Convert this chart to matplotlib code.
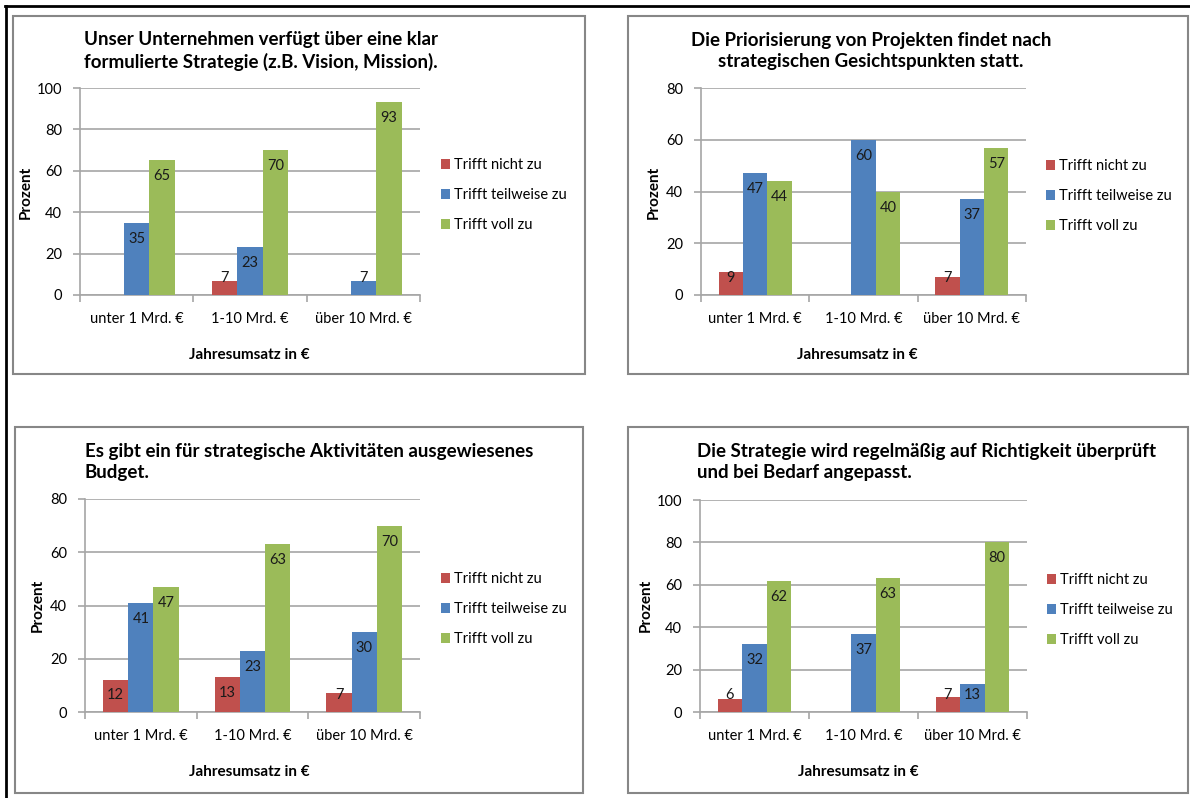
import matplotlib.pyplot as plt
from matplotlib.patches import Rectangle
from matplotlib.lines import Line2D

plt.rcParams['font.family'] = ['Lato', 'DejaVu Sans']

categories = ['unter 1 Mrd. €', '1-10 Mrd. €', 'über 10 Mrd. €']
series_names = ['Trifft nicht zu', 'Trifft teilweise zu', 'Trifft voll zu']
colors = ['#C0504D', '#4F81BD', '#9BBB59']

# None = no answers in that group, nothing drawn
strategie_nicht = [None, 7, None]
strategie_teil = [35, 23, 7]
strategie_voll = [65, 70, 93]

prio_nicht = [9, None, 7]
prio_teil = [47, 60, 37]
prio_voll = [44, 40, 57]

budget_nicht = [12, 13, 7]
budget_teil = [41, 23, 30]
budget_voll = [47, 63, 70]

pruefung_nicht = [6, None, 7]
pruefung_teil = [32, 37, 13]
pruefung_voll = [62, 63, 80]

W, H = 1190, 798
fig = plt.figure(figsize=(W / 100, H / 100), dpi=100)


def fx(px):
    return px / W


def fy(py):
    return 1 - py / H


panels = [
    dict(title='Unser Unternehmen verfügt über eine klar\nformulierte Strategie (z.B. Vision, Mission).',
         data=[strategie_nicht, strategie_teil, strategie_voll], ymax=100,
         ax=(80, 88, 420, 295), frame=(13, 16, 585, 374),
         tpos=(261, 51), tha='center', ylab=(26, 192), xlab=(249, 355), leg=(441, 195)),
    dict(title='Die Priorisierung von Projekten findet nach\nstrategischen Gesichtspunkten statt.',
         data=[prio_nicht, prio_teil, prio_voll], ymax=80,
         ax=(701, 88, 1026, 295), frame=(628, 16, 1188, 374),
         tpos=(871, 51), tha='center', ylab=(654, 192), xlab=(857, 355), leg=(1046, 196)),
    dict(title='Es gibt ein für strategische Aktivitäten ausgewiesenes\nBudget.',
         data=[budget_nicht, budget_teil, budget_voll], ymax=80,
         ax=(85, 499, 420, 712), frame=(15, 427, 583, 793),
         tpos=(85, 462), tha='left', ylab=(38, 605), xlab=(249, 772), leg=(441, 609)),
    dict(title='Die Strategie wird regelmäßig auf Richtigkeit überprüft\nund bei Bedarf angepasst.',
         data=[pruefung_nicht, pruefung_teil, pruefung_voll], ymax=100,
         ax=(700, 500, 1027, 712), frame=(628, 427, 1188, 793),
         tpos=(697, 462), tha='left', ylab=(646, 605), xlab=(858, 772), leg=(1047, 610)),
]

grey = '#A6A6A6'
bw = 0.225

for p in panels:
    x0, y0, x1, y1 = p['ax']
    ax = fig.add_axes([fx(x0), fy(y1), (x1 - x0) / W, (y1 - y0) / H])
    ppu = (y1 - y0) / p['ymax']

    handles = []
    for i, (vals, c) in enumerate(zip(p['data'], colors)):
        xs = [k + (i - 1) * bw for k in range(3) if vals[k] is not None]
        hs = [v for v in vals if v is not None]
        b = ax.bar(xs, hs, width=bw, color=c, zorder=3)
        handles.append(b)
        for x, v in zip(xs, hs):
            ly = max(v - 16 / ppu, 17 / ppu)
            ax.text(x, ly, str(v), ha='center', va='center', fontsize=10.5,
                    color='#1a1a1a', zorder=4)

    ax.set_xlim(-0.5, 2.5)
    ax.set_ylim(0, p['ymax'])
    ax.set_yticks(range(0, p['ymax'] + 1, 20))
    ax.yaxis.grid(True, color=grey, lw=1.2, zorder=0)
    ax.set_axisbelow(True)
    ax.set_xticks(range(3))
    ax.set_xticklabels(categories)
    ax.set_xticks([-0.5, 0.5, 1.5, 2.5], minor=True)
    ax.tick_params(axis='x', which='major', length=0, pad=12, labelsize=10.5)
    ax.tick_params(axis='x', which='minor', length=5, color=grey, width=1.2)
    ax.tick_params(axis='y', length=5, color=grey, width=1.2, pad=8, labelsize=10.5)
    for s in ['top', 'right']:
        ax.spines[s].set_visible(False)
    for s in ['left', 'bottom']:
        ax.spines[s].set_color(grey)
        ax.spines[s].set_linewidth(1.2)

    ax.legend(handles, series_names, loc='center left',
              bbox_to_anchor=(fx(p['leg'][0]), fy(p['leg'][1])),
              bbox_transform=fig.transFigure, frameon=False, fontsize=10.5,
              handlelength=0.65, handleheight=0.65, handletextpad=0.25,
              labelspacing=1.1, borderpad=0, borderaxespad=0)

    fig.text(fx(p['tpos'][0]), fy(p['tpos'][1]), p['title'], ha=p['tha'], va='center',
             fontsize=13.5, fontweight='bold', linespacing=1.3)
    fig.text(fx(p['ylab'][0]), fy(p['ylab'][1]), 'Prozent', rotation=90,
             ha='center', va='center', fontsize=11, fontweight='bold')
    fig.text(fx(p['xlab'][0]), fy(p['xlab'][1]), 'Jahresumsatz in €',
             ha='center', va='center', fontsize=11, fontweight='bold')

    fx0, fy0, fx1, fy1 = p['frame']
    fig.patches.append(Rectangle((fx(fx0), fy(fy1)), (fx1 - fx0) / W, (fy1 - fy0) / H,
                                 transform=fig.transFigure, fill=False,
                                 ec='#878787', lw=1.5))

# outer black frame (top and left edges)
fig.lines.append(Line2D([fx(5), 1], [fy(6), fy(6)], transform=fig.transFigure,
                        color='black', lw=2))
fig.lines.append(Line2D([fx(6), fx(6)], [fy(6), 0], transform=fig.transFigure,
                        color='black', lw=2))

fig.savefig('out.png', dpi=100)
